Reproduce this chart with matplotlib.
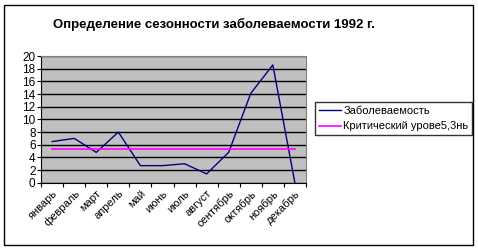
import matplotlib.pyplot as plt
from matplotlib.patches import Rectangle

months = ["январь", "февраль", "март", "апрель", "май", "июнь",
          "июль", "август", "сентябрь", "октябрь", "ноябрь", "декабрь"]
incidence = [6.5, 7.0, 4.8, 8.0, 2.7, 2.7, 3.0, 1.4, 4.8, 14.1, 18.6, 0.0]
critical = [5.4] * 12

plt.rcParams["font.family"] = ["Liberation Sans", "DejaVu Sans"]

fig = plt.figure(figsize=(4.78, 2.49), dpi=100)
ax = fig.add_axes([0.086, 0.266, 0.554, 0.509])

x = list(range(len(months)))
ax.plot(x, incidence, color="#000080", linewidth=1, label="Заболеваемость")
ax.plot(x, critical, color="#FF00FF", linewidth=1.2, label="Критический урове5,3нь")

ax.set_facecolor("#C0C0C0")
ax.set_xlim(-0.5, 11.5)
ax.set_ylim(0, 20)
ax.set_yticks(range(0, 21, 2))
ax.set_xticks([i - 0.5 for i in range(13)], minor=False)
ax.set_xticklabels([])
ax.set_xticks(x, minor=True)
ax.set_xticklabels(months, minor=True, rotation=45, ha="right",
                   rotation_mode="anchor", fontsize=8)
ax.tick_params(axis="x", which="minor", length=0, pad=4)
ax.tick_params(axis="x", which="major", length=3, direction="out")
ax.tick_params(axis="y", length=3, direction="out", labelsize=8.5, pad=1)
ax.yaxis.grid(True, color="black", linewidth=1)
ax.set_axisbelow(True)
for side in ["top", "right"]:
    ax.spines[side].set_color("#808080")
ax.spines["left"].set_color("black")
ax.spines["bottom"].set_color("black")

fig.text(213.5 / 478, 1 - 24 / 249, "Определение сезонности заболеваемости 1992 г.",
         ha="center", va="center", fontsize=9.5, fontweight="bold")

leg = fig.legend(loc="upper left", bbox_to_anchor=(315 / 478, 1 - 102 / 249),
                 fontsize=8, frameon=True, fancybox=False, handlelength=2.0,
                 handletextpad=0.2, borderpad=0.35, labelspacing=0.5,
                 borderaxespad=0)
leg.get_frame().set_edgecolor("black")
leg.get_frame().set_linewidth(1)

fig.patches.append(Rectangle((4 / 478, 1 - 245 / 249), 469 / 478, 240 / 249,
                             transform=fig.transFigure, fill=False,
                             edgecolor="black", linewidth=1))

fig.savefig("out.png", dpi=100)
